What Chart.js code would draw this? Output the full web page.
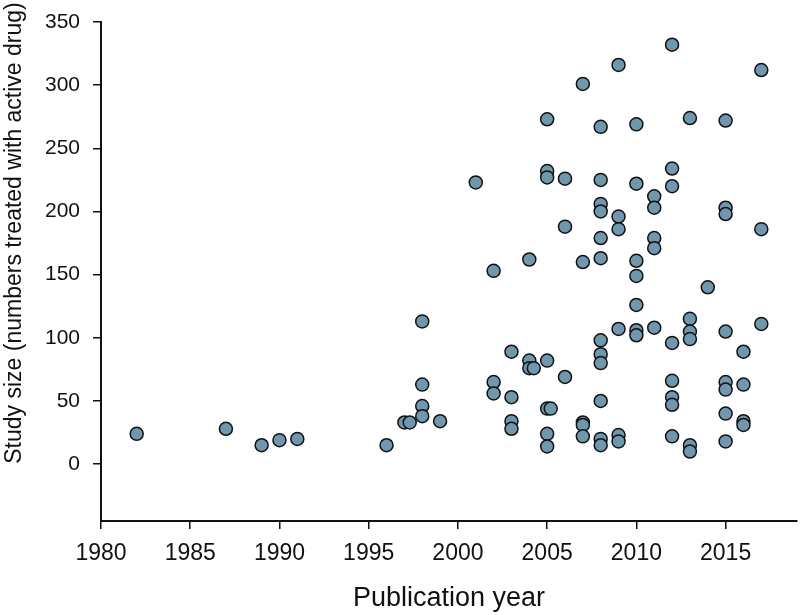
<!DOCTYPE html>
<html>
<head>
<meta charset="utf-8">
<script src="https://cdn.jsdelivr.net/npm/chart.js@4/dist/chart.umd.min.js"></script>
<style>
  html, body { margin: 0; padding: 0; background: #fff; }
</style>
</head>
<body>
<canvas id="chart" width="800" height="615"></canvas>
<script>
// Publication year of each study and its size (numbers treated with active drug)
const publicationYear = [
  1982, 1987, 1989, 1990, 1991, 1996, 1997, 1997.3,
  1998, 1998, 1998, 1998, 1999,
  2001, 2002, 2002, 2002,
  2003, 2003, 2003, 2003,
  2004, 2004, 2004, 2004.25,
  2005, 2005, 2005, 2005, 2005, 2005.2, 2005, 2005,
  2006, 2006, 2006,
  2007, 2007, 2007, 2007, 2007,
  2008, 2008, 2008, 2008, 2008, 2008, 2008, 2008, 2008, 2008, 2008, 2008,
  2009, 2009, 2009, 2009, 2009, 2009,
  2010, 2010, 2010, 2010, 2010, 2010, 2010,
  2011, 2011, 2011, 2011, 2011,
  2012, 2012, 2012, 2012, 2012, 2012, 2012, 2012,
  2013, 2013, 2013, 2013, 2013, 2013,
  2014,
  2015, 2015, 2015, 2015, 2015, 2015, 2015, 2015,
  2016, 2016, 2016, 2016,
  2017, 2017, 2017
];
const studySize = [
  24, 28, 15, 19, 20, 15, 33, 33,
  113, 63, 46, 38, 34,
  223, 153, 65, 56,
  89, 53, 34, 28,
  162, 82, 76, 76,
  273, 232, 227, 82, 44, 44, 24, 14,
  226, 188, 69,
  301, 160, 33, 31, 22,
  267, 225, 206, 200, 179, 163, 98, 87, 80, 50, 20, 15,
  316, 196, 186, 107, 23, 18,
  269, 222, 161, 149, 126, 106, 102,
  212, 203, 179, 171, 108,
  332, 234, 220, 96, 66, 53, 47, 22,
  274, 115, 105, 99, 15, 10,
  140,
  272, 203, 198, 105, 65, 59, 40, 18,
  89, 63, 34, 31,
  312, 186, 111
];

const xTicks = [1980, 1985, 1990, 1995, 2000, 2005, 2010, 2015];
const yTicks = [0, 50, 100, 150, 200, 250, 300, 350];

const xTitle = "Publication year";
const yTitle = "Study size (numbers treated with active drug)";

const points = publicationYear.map((yr, i) => ({ x: yr, y: studySize[i] }));

const FONT = "'Liberation Sans', Arial, sans-serif";
const INK = "#111";

// y title drawn by hand so it can sit a bit above the axis middle, like the original
const yTitlePlugin = {
  id: "yTitle",
  afterDraw(chart) {
    const c = chart.ctx;
    c.save();
    c.translate(15, 233);
    c.rotate(-Math.PI / 2);
    c.font = "23px " + FONT;
    c.fillStyle = INK;
    c.textAlign = "center";
    c.textBaseline = "middle";
    c.fillText(yTitle, 0, 0);
    c.restore();
  }
};

new Chart(document.getElementById("chart"), {
  type: "scatter",
  data: {
    datasets: [{
      data: points,
      backgroundColor: "#6f97ad",
      borderColor: "#111",
      borderWidth: 1.5,
      pointRadius: 6.5,
      pointHoverRadius: 6.5
    }]
  },
  options: {
    responsive: false,
    animation: false,
    layout: { autoPadding: false, padding: { left: 0, top: 22, right: 3, bottom: 0 } },
    plugins: { legend: { display: false }, tooltip: { enabled: false } },
    scales: {
      x: {
        type: "linear",
        min: 1980,
        max: 2019,
        afterFit: axis => {
          axis.height = 94;
          axis.paddingLeft = 0;
          axis.paddingRight = 0;
        },
        afterBuildTicks: axis => {
          axis.ticks = xTicks.map(v => ({ value: v }));
        },
        ticks: {
          color: INK,
          padding: 11,
          maxRotation: 0,
          autoSkip: false,
          font: { family: FONT, size: 23 },
          callback: v => String(v)
        },
        grid: { drawOnChartArea: false, drawTicks: true, tickLength: 8, color: INK, lineWidth: 1.5 },
        border: { display: true, color: INK, width: 2 },
        title: {
          display: true,
          text: xTitle,
          color: INK,
          font: { family: FONT, size: 27 },
          padding: { top: 0, bottom: 0 }
        }
      },
      y: {
        min: -45,
        max: 350,
        afterFit: axis => {
          axis.width = 101;
          axis.paddingTop = 0;
          axis.paddingBottom = 0;
        },
        afterBuildTicks: axis => {
          axis.ticks = yTicks.map(v => ({ value: v }));
        },
        ticks: {
          color: INK,
          padding: 13,
          autoSkip: false,
          font: { family: FONT, size: 21 }
        },
        grid: { drawOnChartArea: false, drawTicks: true, tickLength: 8, color: INK, lineWidth: 1.5 },
        border: { display: true, color: INK, width: 2 },
        title: { display: false }
      }
    }
  },
  plugins: [yTitlePlugin]
});
</script>
</body>
</html>
